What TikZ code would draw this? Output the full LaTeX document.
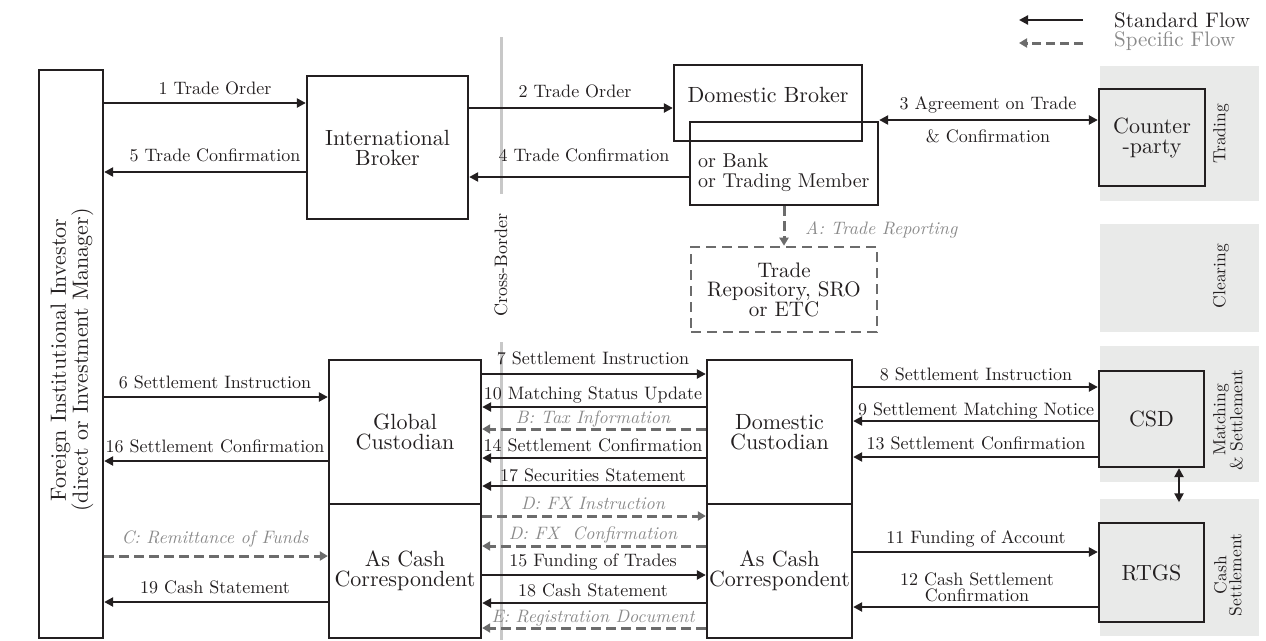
\documentclass[tikz,border=0pt]{standalone}
\usepackage{fontspec}
\setmainfont{lmroman10-regular.otf}[ItalicFont=lmroman10-italic.otf]
\usetikzlibrary{arrows.meta}
\definecolor{ink}{RGB}{35,31,32}
\definecolor{bandfill}{RGB}{233,234,233}
\definecolor{dashgray}{RGB}{108,108,108}
\definecolor{softgray}{RGB}{138,138,138}
\definecolor{bordergray}{RGB}{200,200,200}
\begin{document}
\begin{tikzpicture}[x=1pt,y=-1pt,
  box/.style={draw=ink, line width=2.3pt, inner sep=0pt, text=ink, align=center,
    font=\fontsize{22}{20}\selectfont},
  greybox/.style={box, fill=bandfill},
  specbox/.style={draw=dashgray, line width=2.6pt, dash pattern=on 10pt off 6pt,
    inner sep=0pt, text=ink, align=center, font=\fontsize{21}{19}\selectfont},
  band/.style={fill=bandfill, draw=none, inner sep=0pt},
  bandlbl/.style={rotate=90, text=ink, align=center, inner sep=0pt,
    font=\fontsize{17.5}{15}\selectfont},
  boxtext/.style={text=ink, inner sep=0pt, font=\fontsize{22}{20}\selectfont},
  flow/.style={draw=ink, line width=2.3pt, -{Triangle[length=9pt,width=9pt]}},
  bothflow/.style={draw=ink, line width=2.3pt,
    {Triangle[length=9pt,width=9pt]}-{Triangle[length=9pt,width=9pt]}},
  spec/.style={draw=dashgray, line width=3pt, dash pattern=on 10pt off 5pt,
    -{Triangle[length=8pt,width=9pt]}},
  lbl/.style={anchor=base, text=ink, inner sep=0pt, font=\fontsize{18}{18}\selectfont},
  slbl/.style={anchor=base, text=softgray, inner sep=0pt,
    font=\fontsize{18}{18}\selectfont\itshape},
  xborder/.style={draw=bordergray, line width=3pt}
]
\useasboundingbox (0,0) rectangle (1266,640);

% stage bands on the right
\node[band, minimum width=159, minimum height=135] (bTrade) at (1179.5,133.5) {};
\node[band, minimum width=159, minimum height=108] (bClear) at (1179.5,278) {};
\node[band, minimum width=159, minimum height=136] (bMatch) at (1179.5,414) {};
\node[band, minimum width=159, minimum height=137] (bCash) at (1179.5,567) {};
\node[bandlbl] (tTrade) at (1221,134) {Trading};
\node[bandlbl] (tClear) at (1221,276) {Clearing};
\node[bandlbl] (tMatch) at (1228,420) {Matching\\\& Settlement};
\node[bandlbl] (tCash) at (1228,575) {Cash\\Settlement};

% cross-border divider
\draw[xborder] (501,37) -- (501,194);
\draw[xborder] (501,342) -- (501,640);
\node[rotate=90, text=ink, inner sep=0pt, font=\fontsize{18}{18}\selectfont]
  (xb) at (501,265) {Cross-Border};

% legend
\coordinate (lgA1) at (1083,20);
\coordinate (lgA2) at (1019,20);
\coordinate (lgB1) at (1083,43);
\coordinate (lgB2) at (1019,43);
\draw[flow] (lgA1) -- (lgA2);
\draw[spec, dash pattern=on 9pt off 5pt] (lgB1) -- (lgB2);
\node[anchor=base west, text=ink, inner sep=0pt, font=\fontsize{21}{21}\selectfont]
  (lgT1) at (1114,27) {Standard Flow};
\node[anchor=base west, text=softgray, inner sep=0pt, font=\fontsize{21}{21}\selectfont]
  (lgT2) at (1114,46) {Specific Flow};

% participants
\node[box, minimum width=64, minimum height=568] (inv) at (71,354) {};
\node[rotate=90, boxtext, align=center, font=\fontsize{22}{20}\selectfont]
  (invT) at (72,360) {Foreign Institutional Investor\\(direct or Investment Manager)};
\node[box, minimum width=161, minimum height=143] (ib) at (387.5,147.5)
  {International\\Broker};
\node[box, minimum width=188, minimum height=76] (db) at (768,103) {};
\node[boxtext, anchor=base] (dbT) at (768,102) {Domestic Broker};
\node[box, minimum width=188, minimum height=83] (bank) at (784,163.5) {};
\node[boxtext, anchor=north west, align=left, font=\fontsize{20}{20}\selectfont]
  (bankT) at (698,153) {or Bank\\or Trading Member};
\node[greybox, minimum width=106, minimum height=97] (cp) at (1152,137.5)
  {Counter\\-party};
\node[specbox, minimum width=186, minimum height=85] (tr) at (784,289.5)
  {Trade\\Repository, SRO\\or ETC};
\node[box, minimum width=152, minimum height=144] (gc) at (405,432)
  {Global\\Custodian};
\node[box, minimum width=152, minimum height=134] (gcc) at (405,571)
  {As Cash\\Correspondent};
\node[box, minimum width=145, minimum height=144] (dc) at (779.5,432)
  {Domestic\\Custodian};
\node[box, minimum width=145, minimum height=134] (dcc) at (779.5,571)
  {As Cash\\Correspondent};
\node[greybox, minimum width=105, minimum height=96] (csd) at (1151.5,419) {CSD};
\node[greybox, minimum width=105, minimum height=99] (rtgs) at (1151.5,572.5) {RTGS};

% trading flows
\draw[flow] (inv.east |- 0,103) -- (ib.west |- 0,103);
\node[lbl] at (215,94) {1 Trade Order};
\draw[flow] (ib.west |- 0,172) -- (inv.east |- 0,172);
\node[lbl] at (215,161) {5 Trade Confirmation};
\draw[flow] (ib.east |- 0,108) -- (db.west |- 0,108);
\node[lbl] at (575,97) {2 Trade Order};
\draw[flow] (bank.west |- 0,177) -- (ib.east |- 0,177);
\node[lbl] at (584,161) {4 Trade Confirmation};
\draw[bothflow] (bank.east |- 0,120) -- (cp.west |- 0,120);
\node[lbl] at (988,109) {3 Agreement on Trade};
\node[lbl] at (988,142) {\& Confirmation};
\draw[spec] (bank.south) -- (tr.north);
\node[slbl, anchor=base west] at (805,234) {A: Trade Reporting};

% investor and global custodian
\draw[flow] (inv.east |- 0,397) -- (gc.west |- 0,397);
\node[lbl] at (215,388) {6 Settlement Instruction};
\draw[flow] (gc.west |- 0,461) -- (inv.east |- 0,461);
\node[lbl] at (215,452) {16 Settlement Confirmation};
\draw[spec] (inv.east |- 0,556) -- (gcc.west |- 0,556);
\node[slbl] at (215,543) {C: Remittance of Funds};
\draw[flow] (gcc.west |- 0,602) -- (inv.east |- 0,602);
\node[lbl] at (215,593) {19 Cash Statement};

% global and domestic custodian
\draw[flow] (gc.east |- 0,374) -- (dc.west |- 0,374);
\node[lbl] at (593,364) {7 Settlement Instruction};
\draw[flow] (dc.west |- 0,407) -- (gc.east |- 0,407);
\node[lbl] at (593,399) {10 Matching Status Update};
\draw[spec] (dc.west |- 0,429) -- (gc.east |- 0,429);
\node[slbl] at (593,423) {B: Tax Information};
\draw[flow] (dc.west |- 0,458) -- (gc.east |- 0,458);
\node[lbl] at (593,451) {14 Settlement Confirmation};
\draw[flow] (dc.west |- 0,486) -- (gc.east |- 0,486);
\node[lbl] at (593,481) {17 Securities Statement};
\draw[spec] (gcc.east |- 0,516) -- (dcc.west |- 0,516);
\node[slbl] at (593,509) {D: FX Instruction};
\draw[spec] (dcc.west |- 0,546) -- (gcc.east |- 0,546);
\node[slbl] at (593,539) {D: FX\ \ Confirmation};
\draw[flow] (gcc.east |- 0,575) -- (dcc.west |- 0,575);
\node[lbl] at (593,566) {15 Funding of Trades};
\draw[flow] (dcc.west |- 0,603) -- (gcc.east |- 0,603);
\node[lbl] at (593,596) {18 Cash Statement};
\draw[spec] (dcc.west |- 0,628) -- (gcc.east |- 0,628);
\node[slbl] at (593,622) {E: Registration Document};

% domestic custodian and infrastructures
\draw[flow] (dc.east |- 0,387) -- (csd.west |- 0,387);
\node[lbl] at (976,380) {8 Settlement Instruction};
\draw[flow] (csd.west |- 0,421) -- (dc.east |- 0,421);
\node[lbl] at (976,415) {9 Settlement Matching Notice};
\draw[flow] (csd.west |- 0,457) -- (dc.east |- 0,457);
\node[lbl] at (976,449) {13 Settlement Confirmation};
\draw[flow] (dcc.east |- 0,552) -- (rtgs.west |- 0,552);
\node[lbl] at (976,543) {11 Funding of Account};
\draw[flow] (rtgs.west |- 0,607) -- (dcc.east |- 0,607);
\node[lbl] at (977,585) {12 Cash Settlement};
\node[lbl] at (977,601) {Confirmation};
\draw[bothflow, shorten >=-4pt] (csd.south -| 1179,0) -- (bCash.north -| 1179,0);
\end{tikzpicture}
\end{document}
